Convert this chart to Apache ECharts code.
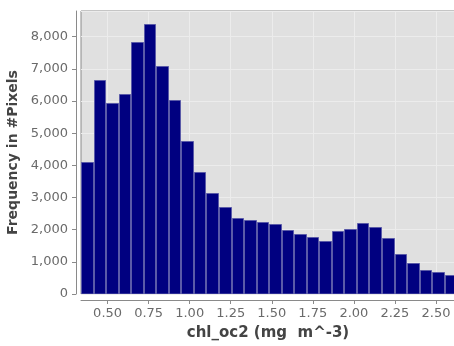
<!DOCTYPE html>
<html>
<head>
<meta charset="utf-8">
<script src="https://cdn.jsdelivr.net/npm/echarts@6/dist/echarts.min.js"></script>
<style>
html,body{margin:0;padding:0;background:#fff;}
#c{width:454px;height:346px;}
</style>
</head>
<body>
<div id="c"></div>
<script>
// Histogram bin centers (chl_oc2, mg m^-3)
var binCenters = [0.376, 0.453, 0.529, 0.605, 0.682, 0.758, 0.835, 0.911, 0.987, 1.064,
                  1.140, 1.217, 1.293, 1.369, 1.446, 1.522, 1.599, 1.675, 1.751, 1.828,
                  1.904, 1.981, 2.057, 2.133, 2.210, 2.286, 2.363, 2.439, 2.515, 2.592];
var binWidth = 0.0764;
// Frequency (#Pixels)
var counts = [4100, 6650, 5950, 6230, 7850, 8410, 7080, 6040, 4750, 3800,
              3140, 2710, 2360, 2300, 2240, 2170, 2000, 1870, 1770, 1650,
              1970, 2020, 2200, 2090, 1740, 1240, 960, 750, 690, 590];
// X tick labels
var xTicks = [0.50, 0.75, 1.00, 1.25, 1.50, 1.75, 2.00, 2.25, 2.50];

var data = binCenters.map(function (c, i) { return [c, counts[i]]; });

var chart = echarts.init(document.getElementById('c'), null, {renderer: 'canvas'});
var labelFont = {fontFamily: 'DejaVu Sans', fontSize: 13, color: '#6a6a6a'};
chart.setOption({
  animation: false,
  grid: {left: 81, right: -1, top: 11, bottom: 52, show: true, containLabel: false,
         outerBoundsMode: 'none',
         backgroundColor: '#e0e0e0', borderColor: '#8a8a8a', borderWidth: 1},
  xAxis: {
    type: 'value', min: 0.338, max: 2.616, offset: 6,
    name: 'chl_oc2 (mg  m^-3)', nameLocation: 'middle', nameGap: 26,
    nameTextStyle: {fontFamily: 'DejaVu Sans', fontSize: 15, fontWeight: 'bold', color: '#444'},
    axisLine: {show: true, onZero: false, lineStyle: {color: '#8a8a8a'}},
    axisTick: {show: true, length: 4, customValues: xTicks, lineStyle: {color: '#8a8a8a'}},
    axisLabel: Object.assign({margin: 7, customValues: xTicks,
      formatter: function (v) { return v.toFixed(2); }}, labelFont),
    splitLine: {show: false}
  },
  yAxis: {
    type: 'value', min: 0, max: 8800, interval: 1000, offset: 5,
    name: 'Frequency in #Pixels', nameLocation: 'middle', nameGap: 51,
    nameTextStyle: {fontFamily: 'DejaVu Sans', fontSize: 14, fontWeight: 'bold', color: '#444'},
    axisLine: {show: true, lineStyle: {color: '#8a8a8a'}},
    axisTick: {show: true, length: 4, lineStyle: {color: '#8a8a8a'}},
    axisLabel: Object.assign({margin: 8, showMaxLabel: false,
      formatter: function (v) { return v.toLocaleString('en-US'); }}, labelFont),
    splitLine: {show: true, lineStyle: {color: '#ececec', width: 1}}
  },
  series: [{
    type: 'custom',
    data: data,
    clip: true,
    z: 10,
    renderItem: function (params, api) {
      var c = api.value(0), v = api.value(1);
      var p0 = api.coord([c - binWidth / 2, v]);
      var p1 = api.coord([c + binWidth / 2, 0]);
      return {
        type: 'rect',
        shape: {x: Math.round(p0[0]) + 0.5, y: Math.round(p0[1]) + 0.5,
                width: Math.round(p1[0]) - Math.round(p0[0]) - 1,
                height: Math.round(p1[1]) - Math.round(p0[1]) - 0.5},
        style: {fill: '#000080', stroke: '#5a5aa8', lineWidth: 1}
      };
    }
  }, {
    type: 'line',
    data: [],
    z: 1,
    markLine: {
      silent: true, symbol: 'none', label: {show: false}, animation: false, z: 1,
      lineStyle: {color: '#ececec', type: 'solid', width: 1},
      data: xTicks.map(function (t) { return {xAxis: t}; })
    }
  }]
});
</script>
</body>
</html>
